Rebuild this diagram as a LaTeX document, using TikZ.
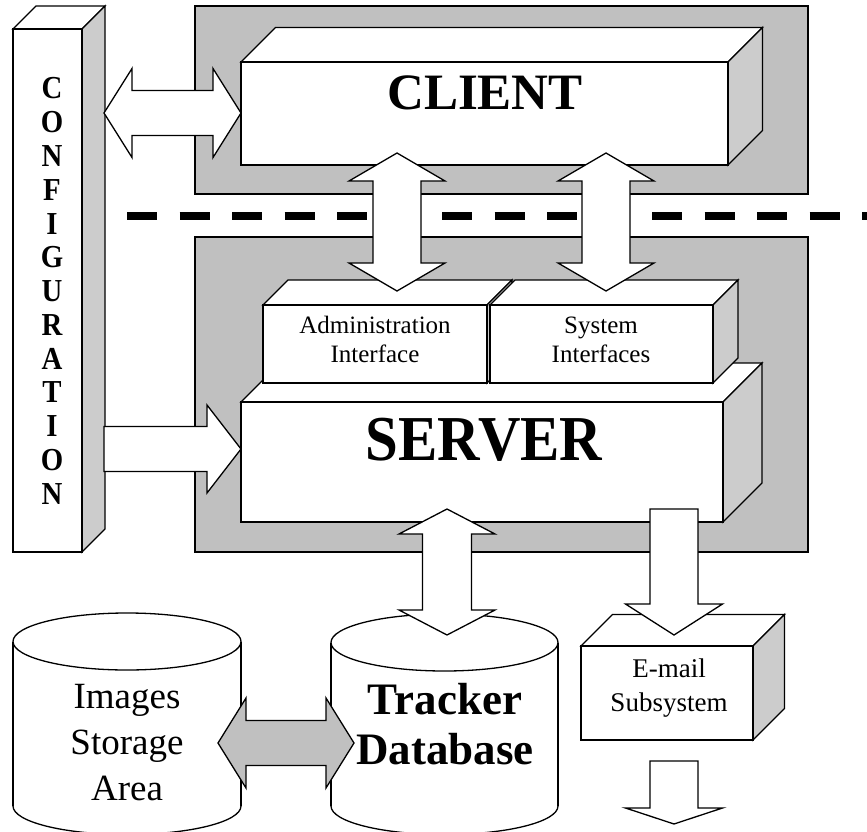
\documentclass[tikz,border=0pt]{standalone}
\usepackage{fontspec}
\setmainfont{Liberation Serif}
\definecolor{panelgray}{HTML}{C0C0C0}
\definecolor{sidegray}{HTML}{CCCCCC}
\tikzset{
  outl/.style={draw=black,line width=1.3pt,line join=miter},
  panel/.style={outl,fill=panelgray},
  blk/.style={outl,fill=white},
  blkgray/.style={outl,fill=panelgray},
  cfgletter/.style={anchor=base,font=\fontsize{32}{32}\selectfont\bfseries},
  smalltxt/.style={anchor=base,font=\fontsize{25}{25}\selectfont},
  mailtxt/.style={anchor=base,font=\fontsize{27}{27}\selectfont},
  imgtxt/.style={anchor=base,font=\fontsize{37}{37}\selectfont},
  dbtxt/.style={anchor=base,font=\fontsize{45}{45}\selectfont\bfseries},
}
% front rectangle (x1,y1)-(x2,y2), depth d  (y grows downwards)
\newcommand\drawcube[5]{%
  \filldraw[outl,fill=white] (#1,#2) -- ({#1+#5},{#2-#5}) -- ({#3+#5},{#2-#5}) -- (#3,#2) -- cycle;
  \filldraw[outl,fill=sidegray] (#3,#2) -- ({#3+#5},{#2-#5}) -- ({#3+#5},{#4-#5}) -- (#3,#4) -- cycle;
  \filldraw[outl,fill=white] (#1,#2) rectangle (#3,#4);
}
% vertical double arrow: cx, ytop tip, ybottom tip, shaft half, head half, head length
\newcommand\blkvd[6]{%
  \filldraw[blk] (#1,#2) -- ({#1+#5},{#2+#6}) -- ({#1+#4},{#2+#6}) -- ({#1+#4},{#3-#6}) -- ({#1+#5},{#3-#6}) -- (#1,#3)
   -- ({#1-#5},{#3-#6}) -- ({#1-#4},{#3-#6}) -- ({#1-#4},{#2+#6}) -- ({#1-#5},{#2+#6}) -- cycle;
}
% horizontal double arrow: cy, xleft tip, xright tip, shaft half, head half, head length, style
\newcommand\blkhd[7]{%
  \filldraw[#7] (#2,#1) -- ({#2+#6},{#1-#5}) -- ({#2+#6},{#1-#4}) -- ({#3-#6},{#1-#4}) -- ({#3-#6},{#1-#5}) -- (#3,#1)
   -- ({#3-#6},{#1+#5}) -- ({#3-#6},{#1+#4}) -- ({#2+#6},{#1+#4}) -- ({#2+#6},{#1+#5}) -- cycle;
}
% single down arrow: cx, ytop, ytip, shaft half, head half, head length
\newcommand\blkdown[6]{%
  \filldraw[blk] ({#1-#4},#2) -- ({#1+#4},#2) -- ({#1+#4},{#3-#6}) -- ({#1+#5},{#3-#6}) -- (#1,#3)
   -- ({#1-#5},{#3-#6}) -- ({#1-#4},{#3-#6}) -- cycle;
}
% single right arrow: cy, xleft, xtip, shaft half, head half, head length
\newcommand\blkright[6]{%
  \filldraw[blk] (#2,{#1-#4}) -- ({#3-#6},{#1-#4}) -- ({#3-#6},{#1-#5}) -- (#3,#1) -- ({#3-#6},{#1+#5})
   -- ({#3-#6},{#1+#4}) -- (#2,{#1+#4}) -- cycle;
}
% cylinder: cx, rx, ytop centre, ybottom centre, ry
\newcommand\drawcyl[5]{%
  \filldraw[outl,fill=white] (#1,#4) ellipse [x radius=#2, y radius=#5];
  \fill[white] ({#1-#2},#3) rectangle ({#1+#2},#4);
  \draw[outl] ({#1-#2},#3) -- ({#1-#2},#4);
  \draw[outl] ({#1+#2},#3) -- ({#1+#2},#4);
  \filldraw[outl,fill=white] (#1,#3) ellipse [x radius=#2, y radius=#5];
}
\begin{document}
\begin{tikzpicture}[x=1pt,y=-1pt]
\useasboundingbox (0,0) rectangle (867,832);
% configuration bar
\drawcube{13}{29}{82}{552}{23}
% grey panels
\filldraw[panel] (195,6) rectangle (808,194);
\filldraw[panel] (195,237) rectangle (808,552);
% client and server blocks
\drawcube{241}{62}{728}{165}{34.5}
\drawcube{241}{402}{723}{522}{39}
\drawcube{263}{305}{487}{383}{25}
\drawcube{490}{305}{713}{383}{25}
% separation line
\coordinate (dashL) at (127,216);
\coordinate (dashR) at (867,216);
\draw[line width=8pt,dash pattern=on 30pt off 22.5pt] (dashL) -- (dashR);
% e-mail subsystem and databases
\drawcube{581}{646}{753}{740}{31.5}
\drawcyl{127}{114}{641.5}{806}{28.5}
\drawcyl{444.5}{113.5}{642.5}{806}{28.5}
% arrows
\blkhd{113}{104}{241}{22.5}{44.5}{28}{blk}
\blkvd{397}{153}{291}{24}{48}{28}
\blkvd{606}{153}{291}{24}{48}{28}
\blkright{449}{104}{241}{22.5}{44}{34}
\blkvd{447}{509}{635}{24.5}{48}{25}
\blkdown{674}{509}{635}{24}{48.5}{31}
\blkdown{674}{761}{824}{24}{48.5}{16}
\blkhd{743}{218}{354}{22.5}{45}{28}{blkgray}
% labels
\foreach \L [count=\i from 0] in {C,O,N,F,I,G,U,R,A,T,I,O,N}
  \node[cfgletter] (cfg\i) at (52,{99+33.75*\i}) {\scalebox{0.9}[1]{\L}};
\node[anchor=base,font=\fontsize{51}{51}\selectfont\bfseries] (clientlbl) at (485,110) {CLIENT};
\node[anchor=base,font=\fontsize{64}{64}\selectfont\bfseries] (serverlbl) at (484,460) {\scalebox{0.92}[1]{SERVER}};
\node[smalltxt] (admin1) at (375,333) {Administration};
\node[smalltxt] (admin2) at (375,362) {Interface};
\node[smalltxt] (sys1) at (601,333) {System};
\node[smalltxt] (sys2) at (601,362) {Interfaces};
\node[mailtxt] (mail1) at (669,677) {E-mail};
\node[mailtxt] (mail2) at (669,711) {Subsystem};
\node[imgtxt] (img1) at (127,708) {Images};
\node[imgtxt] (img2) at (127,754) {Storage};
\node[imgtxt] (img3) at (127,800) {Area};
\node[dbtxt] (db1) at (445,714) {Tracker};
\node[dbtxt] (db2) at (445,764) {Database};
\end{tikzpicture}
\end{document}
